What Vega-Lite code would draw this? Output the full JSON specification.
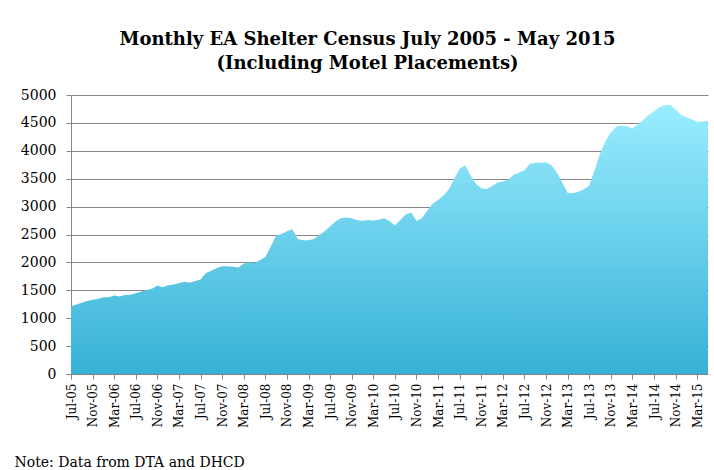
{
  "$schema": "https://vega.github.io/schema/vega-lite/v6.json",
  "width": 637,
  "height": 279,
  "autosize": {"type": "none"},
  "padding": {"left": 71, "top": 95, "right": 6, "bottom": 96},
  "background": "white",
  "title": {
    "text": ["Monthly EA Shelter Census July 2005 - May 2015", "(Including Motel Placements)"],
    "font": "DejaVu Serif",
    "fontSize": 18,
    "fontWeight": "bold",
    "color": "black",
    "anchor": "middle",
    "frame": "group",
    "dx": -22,
    "offset": 15,
    "lineHeight": 24
  },
  "config": {"view": {"stroke": null}},
  "data": {
    "values": [
      {"m": "Jul-05", "v": 1210}, {"m": "Aug-05", "v": 1245}, {"m": "Sep-05", "v": 1275}, {"m": "Oct-05", "v": 1310},
      {"m": "Nov-05", "v": 1330}, {"m": "Dec-05", "v": 1345}, {"m": "Jan-06", "v": 1375}, {"m": "Feb-06", "v": 1377},
      {"m": "Mar-06", "v": 1405}, {"m": "Apr-06", "v": 1390}, {"m": "May-06", "v": 1415}, {"m": "Jun-06", "v": 1420},
      {"m": "Jul-06", "v": 1445}, {"m": "Aug-06", "v": 1480}, {"m": "Sep-06", "v": 1505}, {"m": "Oct-06", "v": 1530},
      {"m": "Nov-06", "v": 1585}, {"m": "Dec-06", "v": 1555}, {"m": "Jan-07", "v": 1590}, {"m": "Feb-07", "v": 1605},
      {"m": "Mar-07", "v": 1630}, {"m": "Apr-07", "v": 1655}, {"m": "May-07", "v": 1635}, {"m": "Jun-07", "v": 1665},
      {"m": "Jul-07", "v": 1695}, {"m": "Aug-07", "v": 1810}, {"m": "Sep-07", "v": 1850}, {"m": "Oct-07", "v": 1900},
      {"m": "Nov-07", "v": 1930}, {"m": "Dec-07", "v": 1930}, {"m": "Jan-08", "v": 1920}, {"m": "Feb-08", "v": 1910},
      {"m": "Mar-08", "v": 1975}, {"m": "Apr-08", "v": 2005}, {"m": "May-08", "v": 1990}, {"m": "Jun-08", "v": 2045},
      {"m": "Jul-08", "v": 2095}, {"m": "Aug-08", "v": 2285}, {"m": "Sep-08", "v": 2480}, {"m": "Oct-08", "v": 2510},
      {"m": "Nov-08", "v": 2560}, {"m": "Dec-08", "v": 2595}, {"m": "Jan-09", "v": 2420}, {"m": "Feb-09", "v": 2395},
      {"m": "Mar-09", "v": 2395}, {"m": "Apr-09", "v": 2420}, {"m": "May-09", "v": 2490}, {"m": "Jun-09", "v": 2560},
      {"m": "Jul-09", "v": 2650}, {"m": "Aug-09", "v": 2735}, {"m": "Sep-09", "v": 2790}, {"m": "Oct-09", "v": 2805},
      {"m": "Nov-09", "v": 2790}, {"m": "Dec-09", "v": 2755}, {"m": "Jan-10", "v": 2745}, {"m": "Feb-10", "v": 2760},
      {"m": "Mar-10", "v": 2750}, {"m": "Apr-10", "v": 2765}, {"m": "May-10", "v": 2790}, {"m": "Jun-10", "v": 2740},
      {"m": "Jul-10", "v": 2660}, {"m": "Aug-10", "v": 2760}, {"m": "Sep-10", "v": 2860}, {"m": "Oct-10", "v": 2895},
      {"m": "Nov-10", "v": 2740}, {"m": "Dec-10", "v": 2790}, {"m": "Jan-11", "v": 2930}, {"m": "Feb-11", "v": 3050},
      {"m": "Mar-11", "v": 3120}, {"m": "Apr-11", "v": 3200}, {"m": "May-11", "v": 3310}, {"m": "Jun-11", "v": 3500},
      {"m": "Jul-11", "v": 3680}, {"m": "Aug-11", "v": 3740}, {"m": "Sep-11", "v": 3560}, {"m": "Oct-11", "v": 3410},
      {"m": "Nov-11", "v": 3330}, {"m": "Dec-11", "v": 3315}, {"m": "Jan-12", "v": 3370}, {"m": "Feb-12", "v": 3430},
      {"m": "Mar-12", "v": 3450}, {"m": "Apr-12", "v": 3480}, {"m": "May-12", "v": 3570}, {"m": "Jun-12", "v": 3605},
      {"m": "Jul-12", "v": 3650}, {"m": "Aug-12", "v": 3770}, {"m": "Sep-12", "v": 3785}, {"m": "Oct-12", "v": 3785},
      {"m": "Nov-12", "v": 3795}, {"m": "Dec-12", "v": 3745}, {"m": "Jan-13", "v": 3610}, {"m": "Feb-13", "v": 3430},
      {"m": "Mar-13", "v": 3245}, {"m": "Apr-13", "v": 3240}, {"m": "May-13", "v": 3265}, {"m": "Jun-13", "v": 3310},
      {"m": "Jul-13", "v": 3380}, {"m": "Aug-13", "v": 3650}, {"m": "Sep-13", "v": 3950}, {"m": "Oct-13", "v": 4170},
      {"m": "Nov-13", "v": 4330}, {"m": "Dec-13", "v": 4430}, {"m": "Jan-14", "v": 4455}, {"m": "Feb-14", "v": 4440},
      {"m": "Mar-14", "v": 4405}, {"m": "Apr-14", "v": 4470}, {"m": "May-14", "v": 4550}, {"m": "Jun-14", "v": 4640},
      {"m": "Jul-14", "v": 4710}, {"m": "Aug-14", "v": 4780}, {"m": "Sep-14", "v": 4815}, {"m": "Oct-14", "v": 4820},
      {"m": "Nov-14", "v": 4740}, {"m": "Dec-14", "v": 4640}, {"m": "Jan-15", "v": 4600}, {"m": "Feb-15", "v": 4565},
      {"m": "Mar-15", "v": 4515}, {"m": "Apr-15", "v": 4525}, {"m": "May-15", "v": 4540}
    ]
  },
  "mark": {
    "type": "area",
    "interpolate": "linear",
    "fill": {
      "gradient": "linear",
      "x1": 0, "y1": 0, "x2": 0, "y2": 1,
      "stops": [
        {"offset": 0, "color": "#9AEDFF"},
        {"offset": 1, "color": "#37B1D6"}
      ]
    }
  },
  "encoding": {
    "x": {
      "field": "m",
      "type": "ordinal",
      "sort": null,
      "scale": {"type": "point", "padding": 0},
      "axis": {
        "values": ["Jul-05", "Nov-05", "Mar-06", "Jul-06", "Nov-06", "Mar-07", "Jul-07", "Nov-07", "Mar-08", "Jul-08", "Nov-08", "Mar-09", "Jul-09", "Nov-09", "Mar-10", "Jul-10", "Nov-10", "Mar-11", "Jul-11", "Nov-11", "Mar-12", "Jul-12", "Nov-12", "Mar-13", "Jul-13", "Nov-13", "Mar-14", "Jul-14", "Nov-14", "Mar-15"],
        "labelAngle": -90,
        "labelFont": "DejaVu Serif",
        "labelFontSize": 12,
        "labelColor": "black",
        "labelPadding": 4,
        "labelOverlap": false,
        "tickSize": 5,
        "tickColor": "#868686",
        "domainColor": "#868686",
        "grid": false,
        "title": "Note: Data from DTA and DHCD",
        "titleFont": "DejaVu Serif",
        "titleFontSize": 14,
        "titleFontWeight": "normal",
        "titleColor": "black",
        "titleAnchor": "start",
        "titleAlign": "left",
        "titleBaseline": "alphabetic",
        "titleX": -57,
        "titleY": 92
      }
    },
    "y": {
      "field": "v",
      "type": "quantitative",
      "scale": {"domain": [0, 5000], "nice": false},
      "axis": {
        "values": [0, 500, 1000, 1500, 2000, 2500, 3000, 3500, 4000, 4500, 5000],
        "format": "d",
        "title": null,
        "labelFont": "DejaVu Serif",
        "labelFontSize": 14,
        "labelColor": "black",
        "labelPadding": 10,
        "tickSize": 5,
        "tickColor": "#868686",
        "domainColor": "#868686",
        "gridColor": "#868686",
        "gridOpacity": 1
      }
    }
  }
}
